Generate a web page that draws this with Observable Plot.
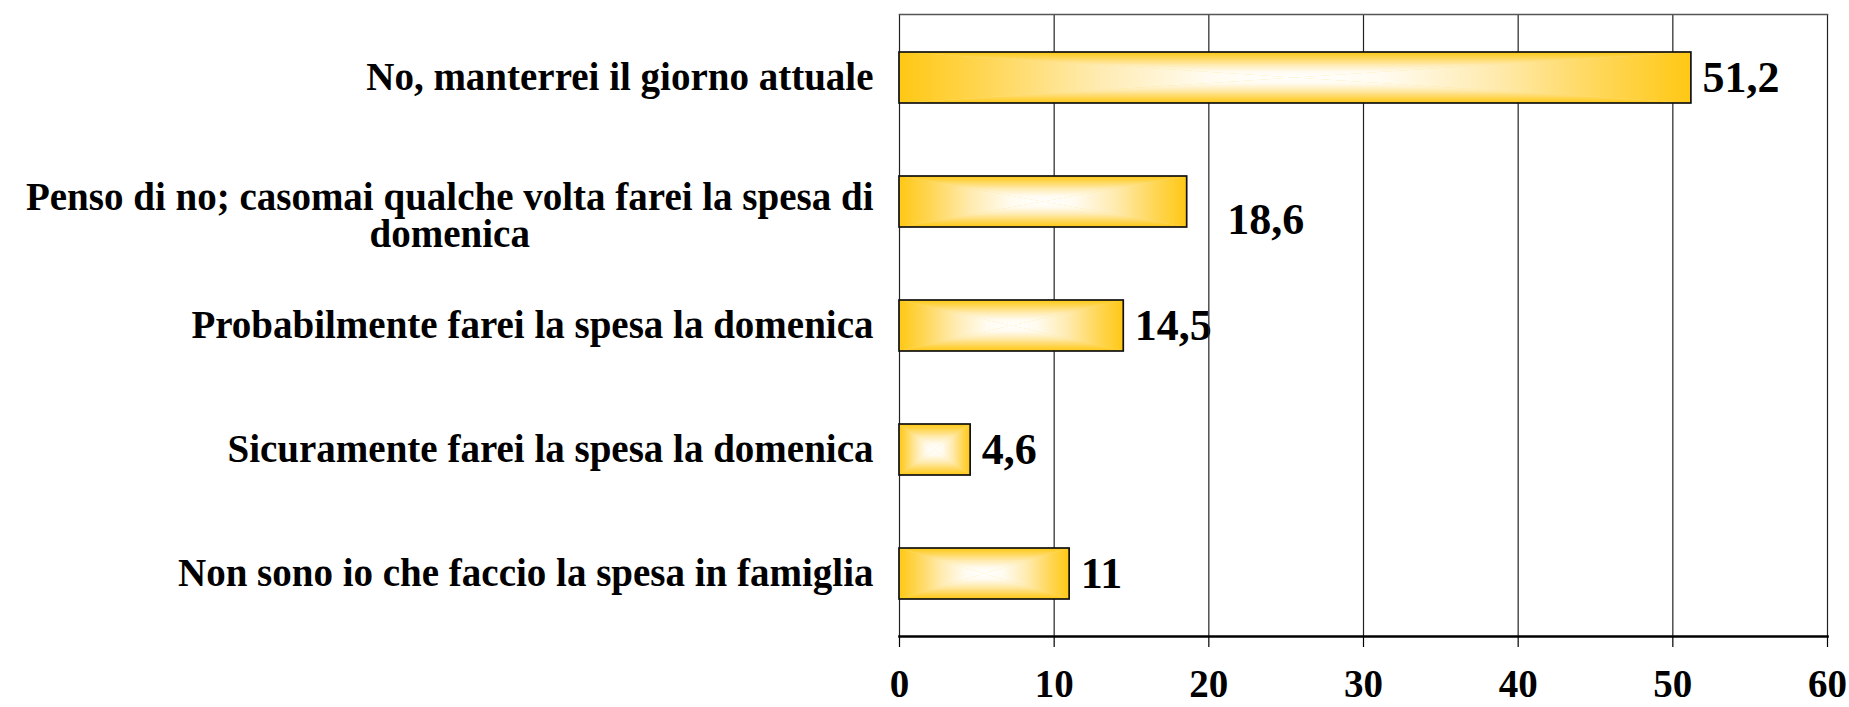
<!DOCTYPE html>
<html><head><meta charset="utf-8">
<script src="https://cdn.jsdelivr.net/npm/d3@7"></script>
<script src="https://cdn.jsdelivr.net/npm/@observablehq/plot@0.6"></script>
<style>
body{margin:0;background:#fff;}
#chart svg{display:block;}
</style></head><body><div id="chart"></div>
<script>
// ---- data ----
const categories = [
  "No, manterrei il giorno attuale",
  "Penso di no; casomai qualche volta farei la spesa di domenica",
  "Probabilmente farei la spesa la domenica",
  "Sicuramente farei la spesa la domenica",
  "Non sono io che faccio la spesa in famiglia"
];
const categoryLines = [
  ["No, manterrei il giorno attuale"],
  ["Penso di no; casomai qualche volta farei la spesa di", "domenica"],
  ["Probabilmente farei la spesa la domenica"],
  ["Sicuramente farei la spesa la domenica"],
  ["Non sono io che faccio la spesa in famiglia"]
];
const values = [51.2, 18.6, 14.5, 4.6, 11];
const valueLabels = ["51,2", "18,6", "14,5", "4,6", "11"];
const xTicks = [0, 10, 20, 30, 40, 50, 60];

const data = categories.map((c, i) => ({
  category: c, value: values[i], label: valueLabels[i],
  display: categoryLines[i].join("\n"), lines: categoryLines[i].length, i
}));

const FONT = "'Liberation Serif', 'Times New Roman', Times, serif";
const CAT_FS = 39;

// measure widest line of multi-line label for centred alignment
const ctx = document.createElement("canvas").getContext("2d");
ctx.font = `bold ${CAT_FS}px 'Liberation Serif'`;
const multi = data.filter(d => d.lines > 1);
const single = data.filter(d => d.lines === 1);
const multiW = multi.length ? Math.max(...categoryLines[multi[0].i].map(s => ctx.measureText(s).width)) : 0;

const chart = Plot.plot({
  width: 1849, height: 707,
  marginLeft: 899, marginRight: 22, marginTop: 14, marginBottom: 71,
  style: {fontFamily: FONT, background: "#fff", color: "#000"},
  x: {domain: [0, 60]},
  y: {domain: categories, paddingInner: 0.59, paddingOuter: 0.295, axis: null},
  marks: [
    Plot.text(data.filter(d => d.i !== 1), {x: "value", y: "category", text: "label", dx: 11, textAnchor: "start", fontSize: 44, fontWeight: "bold", fill: "#000"}),
    Plot.text(data.filter(d => d.i === 1), {x: "value", y: "category", text: "label", dx: 40, dy: 18, textAnchor: "start", fontSize: 44, fontWeight: "bold", fill: "#000"}),
    Plot.ruleX(xTicks, {stroke: "#222", strokeWidth: 1.2}),
    Plot.frame({anchor: "top", stroke: "#555", strokeWidth: 1.5}),
    Plot.barX(data, {x: "value", y: "category", fill: "#FFE07A", stroke: "#111", strokeWidth: 1.7}),
    Plot.frame({anchor: "bottom", stroke: "#000", strokeWidth: 2.6}),
    Plot.axisX({ticks: xTicks, tickSize: 11, tickPadding: 22, fontSize: 39, fontWeight: "bold", tickFormat: d => String(d), label: null, stroke: "#000", strokeWidth: 1.2, fill: "#000"}),
    Plot.text(single, {y: "category", text: "display", frameAnchor: "left", textAnchor: "end", dx: -26, fontSize: CAT_FS, fontWeight: "bold", fill: "#000"}),
    Plot.text(multi, {y: "category", text: "display", frameAnchor: "left", textAnchor: "middle", dx: -26 - multiW / 2, dy: 15, lineHeight: 0.95, fontSize: CAT_FS, fontWeight: "bold", fill: "#000"})
  ]
});
document.getElementById("chart").appendChild(chart);

// ---- rectangular "from centre" gradient fill for bars ----
const NS = "http://www.w3.org/2000/svg";
const defs = document.createElementNS(NS, "defs");
const stops = [[0, "#FFC814"], [0.22, "#FFD655"], [0.5, "#FFEBB0"], [0.78, "#FFFBF0"], [1, "#FFFFFF"]];
function grad(id, x1, y1, x2, y2) {
  const g = document.createElementNS(NS, "linearGradient");
  g.setAttribute("id", id);
  g.setAttribute("x1", x1); g.setAttribute("y1", y1);
  g.setAttribute("x2", x2); g.setAttribute("y2", y2);
  for (const [o, c] of stops) {
    const s = document.createElementNS(NS, "stop");
    s.setAttribute("offset", o); s.setAttribute("stop-color", c);
    g.appendChild(s);
  }
  defs.appendChild(g);
}
grad("gL", 0, 0, 1, 0); grad("gR", 1, 0, 0, 0);
grad("gT", 0, 0, 0, 1); grad("gB", 0, 1, 0, 0);
chart.insertBefore(defs, chart.firstChild);

chart.querySelectorAll('g[aria-label="bar"] rect').forEach(r => {
  const x = +r.getAttribute("x"), y = +r.getAttribute("y");
  const w = +r.getAttribute("width"), h = +r.getAttribute("height");
  const cx = x + w / 2, cy = y + h / 2;
  const p = r.parentNode;
  const base = r.cloneNode();
  base.setAttribute("stroke", "none");
  p.insertBefore(base, r);
  const polys = [
    ["gL", `${x},${y} ${cx},${cy} ${x},${y + h}`],
    ["gR", `${x + w},${y} ${cx},${cy} ${x + w},${y + h}`],
    ["gT", `${x},${y} ${x + w},${y} ${cx},${cy}`],
    ["gB", `${x},${y + h} ${x + w},${y + h} ${cx},${cy}`]
  ];
  for (const [id, pts] of polys) {
    const pg = document.createElementNS(NS, "polygon");
    pg.setAttribute("points", pts);
    pg.setAttribute("fill", `url(#${id})`);
    pg.setAttribute("stroke", "none");
    p.insertBefore(pg, r);
  }
  r.setAttribute("fill", "none");
});
</script>
</body></html>
